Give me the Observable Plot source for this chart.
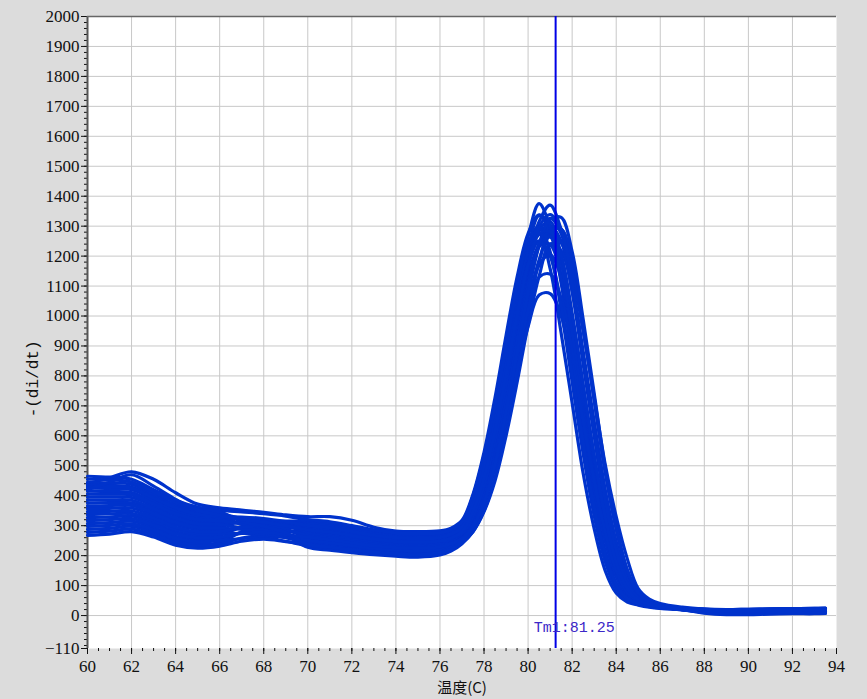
<!DOCTYPE html>
<html>
<head>
<meta charset="utf-8">
<script src="https://cdn.jsdelivr.net/npm/d3@7"></script>
<script src="https://cdn.jsdelivr.net/npm/@observablehq/plot@0.6"></script>
<style>
  html, body { margin: 0; padding: 0; background: #dcdcdc; }
  #chart { width: 867px; height: 699px; }
</style>
</head>
<body>
<div id="chart"></div>
<script>
// Temperatures (°C) at which every melt-derivative curve was read
const temps = [60,61,62,63,64,65,66,67,68,69,70,71,72,73,74,75,76,
  76.5,77,77.5,78,78.5,79,79.5,80,80.5,81,81.5,82,82.5,83,83.5,84,84.5,85,85.5,86,
  87,88,89,90,91,92,93,93.5];

// -(di/dt) values for each well
const melt = [
 [376,377,376,349,318,300,298,314,317,315,315,308,296,281,272,270,272, 285,310,398,530,700,895,1080,1220,1275,1158,943,710,475,290,150,75,45,35,28,24, 20,14,12,13,14,15,15,16],
 [440,460,480,455,410,372,360,352,345,336,330,330,318,295,282,280,283, 292,318,405,545,728,935,1130,1275,1338,1285,1110,862,615,382,212,106,58,40,31,26, 22,16,14,15,16,17,18,18],
 [327,329,333,309,280,266,268,295,303,304,310,303,291,277,268,266,268, 280,310,400,535,710,910,1100,1240,1300,1215,1020,780,540,333,180,90,52,38,30,25, 20,12,9,10,11,12,12,13],
 [426,424,420,388,355,335,328,324,319,310,296,288,277,264,255,253,257, 265,285,353,468,635,835,1045,1225,1336,1300,1122,872,622,385,214,106,58,40,31,26, 22,17,16,17,18,19,20,20],
 [288,291,298,278,250,239,244,279,292,294,306,298,286,273,264,261,264, 275,298,375,498,665,860,1055,1210,1293,1270,1130,900,660,428,250,128,67,43,33,27, 21,14,12,13,13,14,15,15],
 [396,396,394,365,333,314,310,310,308,299,286,278,267,255,247,245,249, 258,282,350,460,620,810,1010,1180,1285,1290,1180,960,720,480,290,150,75,45,35,28, 22,18,16,17,18,19,20,21],
 [307,310,315,294,265,252,256,278,285,281,281,273,262,251,243,241,245, 255,280,345,450,600,780,970,1130,1233,1238,1134,925,697,468,285,148,75,45,35,28, 20,13,10,11,12,12,13,14],
 [445,443,438,404,370,348,340,324,315,301,276,268,258,247,239,237,241, 250,272,332,434,585,773,978,1162,1288,1315,1203,978,733,487,292,150,75,45,35,28, 21,15,14,15,15,16,17,17],
 [357,358,359,333,303,287,286,291,291,283,272,263,253,242,235,232,237, 245,270,328,425,568,745,938,1113,1233,1264,1187,997,764,532,330,180,90,52,38,30, 23,19,17,18,19,20,21,22],
 [416,414,411,381,348,328,322,308,300,286,262,253,243,233,227,224,229, 238,260,310,400,535,710,910,1100,1240,1300,1250,1080,840,600,375,210,105,58,40,31, 24,18,15,16,17,18,19,19],
 [278,282,289,270,243,232,238,259,266,261,257,248,239,229,223,220,225, 235,258,308,390,515,675,860,1040,1170,1205,1130,950,727,505,315,172,88,52,38,30, 22,15,13,13,14,15,16,16],
 [386,386,385,357,325,307,304,293,287,272,247,238,229,220,214,212,218, 228,253,296,377,503,675,875,1075,1234,1326,1275,1101,856,612,380,212,105,58,40,31, 23,19,18,19,20,21,22,22],
 [337,339,341,317,288,273,274,274,273,260,243,233,224,216,210,207,214, 226,250,295,374,493,655,845,1035,1187,1267,1245,1107,882,648,420,246,126,66,43,33, 24,20,18,19,20,21,22,23],
 [435,434,429,396,363,341,334,304,289,267,228,218,210,203,198,195,202, 215,240,280,350,460,620,810,1010,1180,1285,1290,1180,960,720,480,290,150,75,45,35, 25,21,20,21,22,23,24,25],
 [298,301,306,286,258,246,250,257,260,248,233,223,215,207,202,199,206, 220,243,280,347,450,600,778,970,1133,1241,1219,1085,864,634,412,242,124,65,43,33, 23,16,13,14,15,16,17,17],
 [366,367,368,341,310,294,292,288,285,272,252,243,234,225,219,216,222, 232,258,310,400,535,710,910,1100,1240,1285,1290,1180,960,720,480,290,150,75,45,35, 24,19,17,18,19,20,21,21],
 [465,462,455,420,385,362,352,346,340,332,320,313,300,286,276,274,276, 288,312,383,515,690,895,1100,1265,1375,1300,1180,945,690,448,262,134,70,45,34,28, 20,11,8,9,10,10,11,12],
 [268,272,280,262,235,225,232,248,255,247,238,228,220,212,206,203,210, 228,255,335,440,595,790,1000,1185,1315,1370,1290,1150,950,730,505,330,190,90,55,40, 28,22,20,21,22,23,24,24],
 [406,405,403,373,340,321,316,307,301,288,267,258,248,238,231,228,233, 242,258,305,390,520,680,860,1020,1130,1140,1060,880,670,460,285,150,78,46,36,28, 21,10,6,6,7,8,8,9],
 [317,320,324,302,273,259,262,274,278,270,262,253,243,233,227,224,229, 240,257,300,380,500,650,815,965,1070,1075,1000,840,650,450,280,150,78,46,35,28, 20,8,3,3,5,6,6,7],
 [347,348,350,325,295,280,280,295,299,294,291,283,272,260,251,249,253, 260,275,332,435,588,778,985,1172,1298,1339,1288,1112,865,617,384,213,106,58,40,31, 24,20,18,19,20,21,22,22],
 [430,431,425,392,360,338,331,329,324,314,301,293,281,268,260,257,260, 272,294,370,488,648,835,1023,1172,1251,1200,1037,806,577,362,205,103,57,40,31,26, 19,12,10,11,12,13,13,14],
 [455,453,446,412,378,355,346,314,298,277,238,228,220,212,206,203,210, 220,253,296,378,505,680,880,1080,1240,1323,1329,1215,989,742,494,298,153,76,45,35, 25,21,19,20,21,22,23,24],
 [420,445,470,432,388,352,335,320,312,300,286,278,267,255,247,245,249, 258,280,348,458,616,804,1002,1170,1274,1282,1203,1010,772,535,330,178,89,52,38,30, 22,17,15,16,17,17,18,18]
];

// Axis ticks and annotations
const xTicks = [60,62,64,66,68,70,72,74,76,78,80,82,84,86,88,90,92,94];
const yTicks = [-110,0,100,200,300,400,500,600,700,800,900,1000,1100,1200,1300,1400,1500,1600,1700,1800,1900,2000];
const xGrid = [62,64,66,68,70,72,74,76,78,80,82,84,86,88,90,92];
const yGrid = [0,100,200,300,400,500,600,700,800,900,1000,1100,1200,1300,1400,1500,1600,1700,1800,1900];
const tmValue = 81.25;
const tmLabel = "Tm1:81.25";
const yTitle = "-(di/dt)";
const xTitle = "温度(C)";

const serif = "'Times New Roman', 'Liberation Serif', 'DejaVu Serif', serif";
const mono = "'Courier New', 'Liberation Mono', 'DejaVu Sans Mono', monospace";

const rows = melt.flatMap((vals, id) => vals.map((v, i) => ({id, t: temps[i], v})));
const minorX = d3.range(60, 94.001, 0.5);
const minorY = d3.range(-100, 2000.001, 20);
const fmt = d => d < 0 ? "\u2212" + Math.abs(d) : String(d);

const chart = Plot.plot({
  width: 867,
  height: 699,
  marginLeft: 87,
  marginRight: 31,
  marginTop: 16,
  marginBottom: 51,
  x: {domain: [60, 94]},
  y: {domain: [-110, 2000]},
  style: {background: "#dcdcdc", fontSize: "17px", color: "#111", fontFamily: serif},
  marks: [
    Plot.frame({fill: "white", stroke: "none"}),
    Plot.gridX(xGrid, {stroke: "#c8c8c8", strokeOpacity: 1}),
    Plot.gridY(yGrid, {stroke: "#c8c8c8", strokeOpacity: 1}),
    Plot.axisX(minorX, {tickSize: 3, tickFormat: () => "", label: null}),
    Plot.axisX(xTicks, {tickSize: 6, tickPadding: 5, tickFormat: fmt, label: null, fontFamily: serif, fontSize: 17}),
    Plot.axisY(minorY, {tickSize: 3, tickFormat: () => "", label: null}),
    Plot.axisY(yTicks, {tickSize: 6, tickPadding: 2, tickFormat: fmt, label: null, fontFamily: serif, fontSize: 17}),
    Plot.ruleX([60], {stroke: "#555", strokeWidth: 2}),
    Plot.ruleY([2000], {stroke: "#666", strokeWidth: 1.5}),
    Plot.line(rows, {x: "t", y: "v", z: "id", stroke: "#0033cc", strokeWidth: 3.2, curve: "catmull-rom"}),
    Plot.ruleX([tmValue], {stroke: "#0000e6", strokeWidth: 2}),
    Plot.text([tmLabel], {x: tmValue, y: -40, dx: -22, textAnchor: "start", fill: "#3c28c8",
      fontSize: 15, fontFamily: mono}),
    Plot.text([yTitle], {x: 60, y: 790, dx: -55, rotate: -90, fill: "#111",
      fontSize: 16, fontFamily: mono}),
    Plot.text([xTitle], {frameAnchor: "bottom", dy: 44, fill: "#111",
      fontSize: 15, fontFamily: "'Noto Sans CJK SC', sans-serif"})
  ]
});
document.getElementById("chart").appendChild(chart);
</script>
</body>
</html>
